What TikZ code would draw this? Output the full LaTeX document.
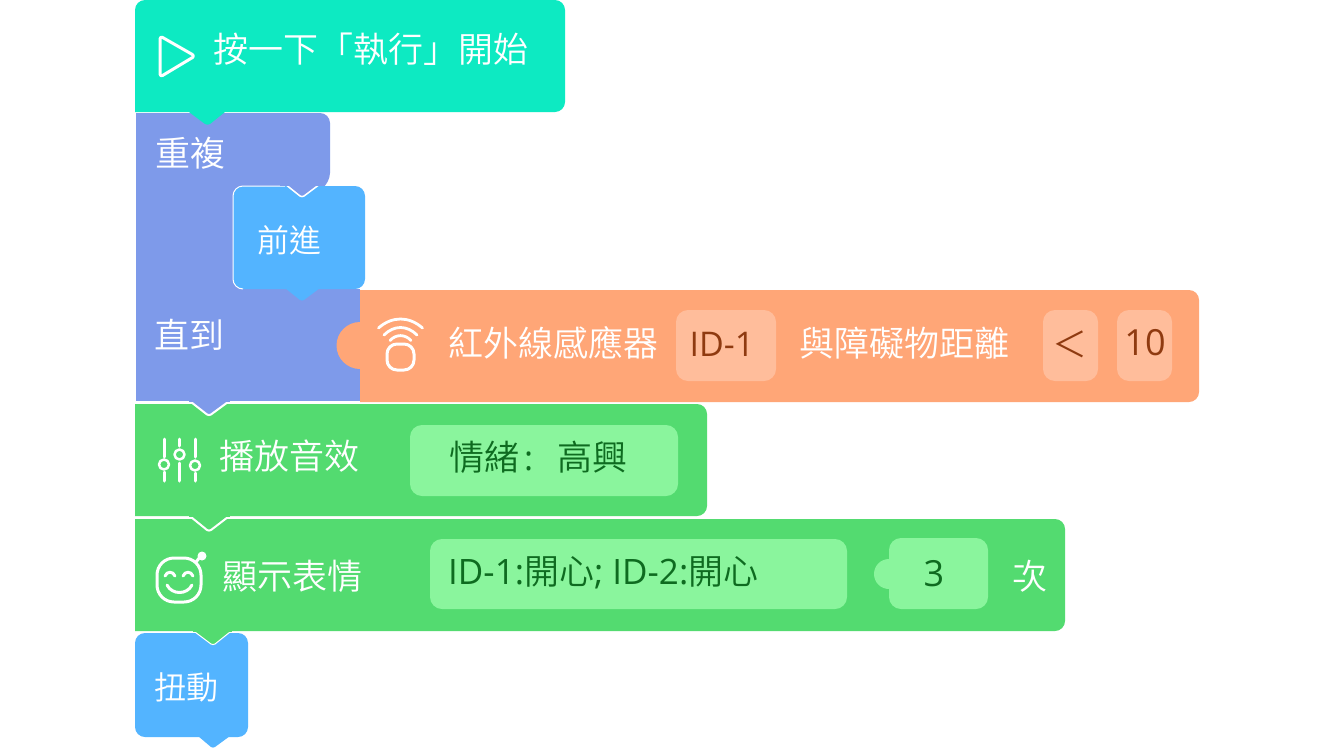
\documentclass[tikz,border=0pt]{standalone}
\usepackage{fontspec}
\setmainfont{Noto Sans}
\newfontfamily\cjk{Noto Sans CJK TC DemiLight}
\newfontfamily\lat{Open Sans}
\definecolor{cstart}{HTML}{0DEAC2}
\definecolor{cpurple}{HTML}{7E9AEA}
\definecolor{cblue}{HTML}{53B4FF}
\definecolor{corange}{HTML}{FFA677}
\definecolor{corangel}{HTML}{FFBD9B}
\definecolor{cgreen}{HTML}{53DB70}
\definecolor{cgreenl}{HTML}{8AF59D}
\definecolor{cbrown}{HTML}{8F3A10}
\definecolor{cdgreen}{HTML}{0E6B20}
\tikzset{
  x=1pt,y=-1pt,
  lbl/.style={text=white,inner sep=0pt,font=\fontsize{35}{35}\selectfont\cjk},
  slbl/.style={text=white,inner sep=0pt,font=\fontsize{32}{32}\selectfont\cjk},
  dlbl/.style={text=cdgreen,inner sep=0pt,font=\fontsize{35}{35}\selectfont\cjk},
  blbl/.style={text=cbrown,inner sep=0pt,font=\fontsize{34}{34}\selectfont\lat},
  icon/.style={draw=white,line width=3pt,line cap=round,line join=round},
  field/.style={rounded corners=12pt},
  tabedge/.style={draw=white,line width=2pt,line join=round}
}
\begin{document}
\begin{tikzpicture}
\useasboundingbox (0,0) rectangle (1334,750);
\fill[white] (0,0) rectangle (1334,750);
% repeat block
\fill[cpurple] (136,113) [rounded corners=10pt] -- (330,113) -- (330,183) [sharp corners] -- (320,190) -- (136,190) -- cycle;
\fill[cpurple] (136,180) rectangle (240,300);
\fill[cpurple] (136,289) rectangle (360,401);
% inner blue
\fill[cblue,rounded corners=10pt] (233,289) -- (233,186) -- (365,186) -- (365,289) -- cycle;
\draw[white,line width=1pt,rounded corners=10pt] (243,289) -- (233,289) -- (233,186) -- (285,186);
\fill[cpurple,draw=white,line width=1.5pt,line join=round] (285,184) -- (300,196) to[out=-30,in=210] (304,196) -- (320,184);
\fill[cpurple] (280,180) rectangle (325,185.5);
\fill[cblue] (285,288) -- (300,300) to[out=-30,in=210] (304,300) -- (320,288) -- cycle;
% orange block
\fill[corange] (360,290) [rounded corners=10pt] -- (1199,290) -- (1199,402) [sharp corners] -- (360,402) -- cycle;
\fill[corange] (361,322) -- (360,322) arc[start angle=270,end angle=90,radius=23.5] -- (361,369) -- cycle;
% start block
\fill[cstart] (135,112) [rounded corners=10pt] -- (135,0) -- (565,0) -- (565,112) [sharp corners] -- (225,112) -- (210,124) to[out=210,in=-30] (205,124) -- (189,112) -- cycle;
% green 1
\fill[cgreen] (135,404) [rounded corners=10pt] -- (707,404) -- (707,516) [sharp corners] -- (135,516) -- cycle;
\draw[tabedge,fill=cpurple] (191,402) -- (207,414.5) to[out=-30,in=210] (211,414.5) -- (228,402);
\fill[cpurple] (189,399) rectangle (230,402.3);
\fill[white] (135,402) rectangle (191,404);\fill[white] (228,402) rectangle (360,404);
% green 2
\fill[cgreen] (135,519) [rounded corners=10pt] -- (1065,519) -- (1065,631) [sharp corners] -- (135,631) -- cycle;
\draw[tabedge,fill=cgreen] (191,517) -- (207,530) to[out=-30,in=210] (211,530) -- (228,517);
\fill[cgreen] (189,513) rectangle (230,517.3);
% bottom blue
\fill[cblue,rounded corners=10pt] (135,633) -- (248,633) -- (248,737) -- (135,737) -- cycle;
\fill[cblue] (198,736) -- (211,747) to[out=-30,in=210] (215,747) -- (230,736) -- cycle;
\draw[white,line width=1pt,fill=cgreen,line join=round] (195,632) -- (211,644) to[out=-30,in=210] (215,644) -- (230,632);
\fill[cgreen] (193,628) rectangle (232,632);
% orange fields
\fill[corangel,field] (676,310) rectangle (776,381);
\fill[corangel,field] (1043,310) rectangle (1098,381);
\fill[corangel,field] (1117,310) rectangle (1172,381);
% green fields
\fill[cgreenl,field] (410,425) rectangle (678,496);
\fill[cgreenl,field] (430,539) rectangle (847,609);
\fill[cgreenl,field] (889,538) rectangle (988,609);
\fill[cgreenl] (890,559) -- (889,559) arc[start angle=270,end angle=90,radius=15] -- (890,589) -- cycle;
% play icon
\draw[icon,rounded corners=3pt] (160,36) -- (195,56) -- (160,77) -- cycle;
% sensor icon
\draw[icon,line width=2.8pt] (378.5,328) .. controls (392,316) and (409,316) .. (422.5,328);
\draw[icon,line width=2.8pt] (384,335) .. controls (394,325) and (407,325) .. (417,335);
\draw[icon,line width=2.8pt] (390,340.5) .. controls (396,334) and (405,334) .. (411,340.5);
\draw[icon,rounded corners=10pt] (387,344) rectangle (414,370);
% sliders icon
\draw[icon] (164,439) -- (164,457);\draw[icon] (164,472) -- (164,481);
\draw[icon] (179.5,439) -- (179.5,446);\draw[icon] (179.5,463) -- (179.5,481);
\draw[icon] (195,439) -- (195,457);\draw[icon] (195,473) -- (195,481);
\draw[icon,line width=2.5pt] (164,464.5) circle[radius=5];
\draw[icon,line width=2.5pt] (179.5,454.5) circle[radius=5];
\draw[icon,line width=2.5pt] (195,465.5) circle[radius=5];
% robot icon
\draw[icon,rounded corners=17pt] (157,558) rectangle (201,602);
\draw[icon] (165,576) .. controls (167,571) and (173,571) .. (175,576);
\draw[icon] (183,576) .. controls (185,571) and (191,571) .. (193,576);
\draw[icon] (167,585) .. controls (172,595) and (187,595) .. (192,585);
\draw[icon] (196,562) -- (200,557);
\fill[white] (202,556) circle[radius=4.5];
% texts
\node[lbl,anchor=west] (t1) at (213,49.5) {按一下「執行」開始};
\node[lbl] (t2) at (190,153) {重複};
\node[slbl] (t3) at (289,240) {前進};
\node[lbl] (t4) at (189,335) {直到};
\node[lbl] (t5) at (553.5,343) {紅外線感應器};
\node[blbl] (t6) at (722,344) {ID-1};
\node[lbl] (t7) at (904,343) {與障礙物距離};
\node[text=cbrown,inner sep=0pt,font=\fontsize{35}{35}\selectfont\cjk] (t8) at (1070,344) {＜};
\node[blbl,font=\fontsize{36}{36}\selectfont\lat] (t9) at (1145,343) {10};
\node[lbl] (t10) at (289,456) {播放音效};
\node[dlbl,anchor=west] (t11) at (449,457) {情緒\kern5pt{\fontsize{34}{34}\selectfont\lat :}\kern24pt 高興};
\node[lbl] (t12) at (292,576) {顯示表情};
\node[dlbl,anchor=west] (t13) at (448,573) {{\fontsize{35}{35}\selectfont\lat ID-1:}開心{\fontsize{35}{35}\selectfont\lat ; ID-2:}開心};
\node[dlbl,font=\fontsize{36}{36}\selectfont\lat] (t14) at (934,574) {3};
\node[lbl] (t15) at (1030,576) {次};
\node[slbl] (t16) at (186,687) {扭動};
\end{tikzpicture}
\end{document}
